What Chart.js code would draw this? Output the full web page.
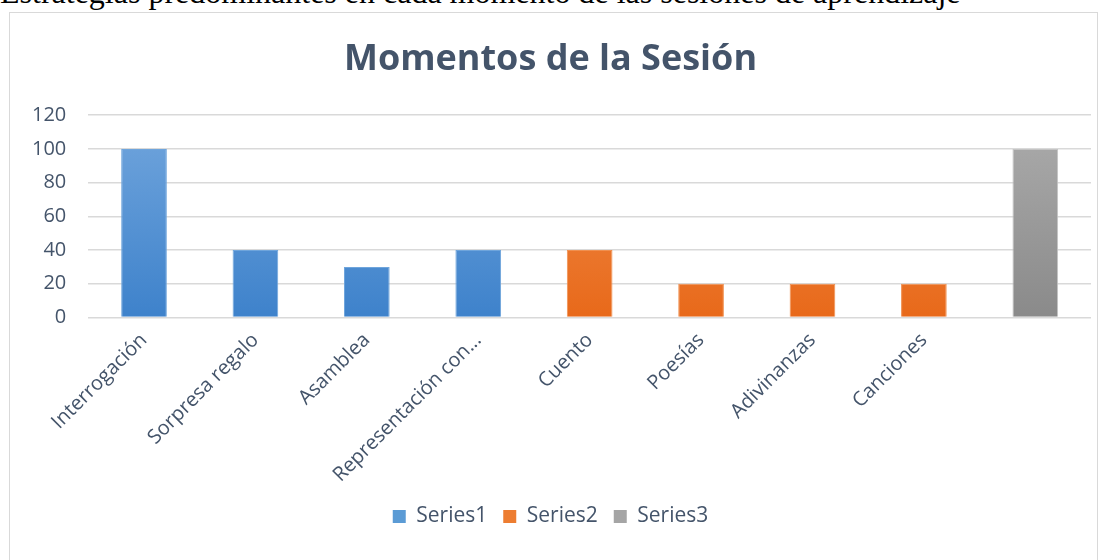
<!DOCTYPE html>
<html>
<head>
<meta charset="utf-8">
<script src="https://cdn.jsdelivr.net/npm/chart.js@4.4.1/dist/chart.umd.min.js"></script>
<style>
  body { margin: 0; background: #fff; width: 1105px; height: 560px; overflow: hidden; position: relative; }
  #caption { position: absolute; left: 0; top: -26px; font-family: "Liberation Serif", "DejaVu Serif", serif; font-size: 32px; color: #000; white-space: nowrap; }
  #box { position: absolute; left: 9px; top: 12px; width: 1087px; height: 560px; border: 1px solid #d9d9d9; background: #fff; }
  #wrap { position: absolute; left: 0; top: 0; width: 1087px; height: 536px; }
</style>
</head>
<body>
<div id="caption">Estrategias predominantes en cada momento de las sesiones de aprendizaje</div>
<div id="box"><div id="wrap"><canvas id="myBarChart"></canvas></div></div>
<script>
// categorias y valores
const categorias = ['Interrogación', 'Sorpresa regalo', 'Asamblea', 'Representación con...', 'Cuento', 'Poesías', 'Adivinanzas', 'Canciones', ''];
const series1 = [100, 40, 30, 40, null, null, null, null, null];
const series2 = [null, null, null, null, 40, 20, 20, 20, null];
const series3 = [null, null, null, null, null, null, null, null, 100];
const ticksY = [0, 20, 40, 60, 80, 100, 120];
const coloresLeyenda = ['#5b9bd5', '#ed7d31', '#a5a5a5'];

const textColor = '#44546a';

const degradado = (top, bottom) => (context) => {
    const chart = context.chart;
    const area = chart.chartArea;
    if (!area) return bottom;
    const g = chart.ctx.createLinearGradient(0, area.top, 0, area.bottom);
    g.addColorStop(0, top);
    g.addColorStop(1, bottom);
    return g;
};

const beginChart = () => {
    var ctx = document.getElementById('myBarChart').getContext('2d');

    var data = {
        labels: categorias,
        datasets: [
            { label: 'Series1', data: series1, backgroundColor: degradado('#72a6dd', '#3e82cb'), borderColor: '#6fa5dc', borderWidth: 1, grouped: false, barPercentage: 0.41, categoryPercentage: 1 },
            { label: 'Series2', data: series2, backgroundColor: degradado('#f09050', '#e8691a'), borderColor: '#f09050', borderWidth: 1, grouped: false, barPercentage: 0.41, categoryPercentage: 1 },
            { label: 'Series3', data: series3, backgroundColor: degradado('#acacac', '#8a8a8a'), borderColor: '#c4c4c4', borderWidth: 1, grouped: false, barPercentage: 0.41, categoryPercentage: 1 }
        ]
    };

    var options = {
        responsive: true,
        maintainAspectRatio: false,
        animation: false,
        layout: { padding: { left: 0, right: 6, top: 4, bottom: 12 } },
        plugins: {
            title: {
                display: true,
                text: 'Momentos de la Sesión',
                color: textColor,
                font: { family: 'Open Sans', size: 36, weight: 'bold' },
                padding: { top: 21, bottom: 34 }
            },
            legend: {
                position: 'bottom',
                labels: {
                    color: textColor,
                    font: { family: 'Open Sans', size: 21 },
                    boxWidth: 13,
                    boxHeight: 13,
                    padding: 16,
                    generateLabels: (chart) => {
                        const items = Chart.defaults.plugins.legend.labels.generateLabels(chart);
                        items.forEach((it, i) => { it.fillStyle = coloresLeyenda[i]; it.strokeStyle = coloresLeyenda[i]; it.lineWidth = 0; });
                        return items;
                    }
                }
            },
            tooltip: { enabled: false }
        },
        scales: {
            x: {
                grid: { display: false },
                border: { display: false },
                ticks: {
                    color: textColor,
                    font: { family: 'Open Sans', size: 20 },
                    maxRotation: 45,
                    minRotation: 45,
                    autoSkip: false
                }
            },
            y: {
                min: 0,
                max: 120,
                afterBuildTicks: (axis) => { axis.ticks = ticksY.map(v => ({ value: v })); },
                grid: { color: '#d9d9d9', lineWidth: 1.5, drawTicks: false },
                border: { display: false },
                ticks: {
                    color: textColor,
                    font: { family: 'Open Sans', size: 20 },
                    padding: 22
                }
            }
        }
    };

    new Chart(ctx, { type: 'bar', data: data, options: options });
};

document.addEventListener('DOMContentLoaded', beginChart);
</script>
</body>
</html>
